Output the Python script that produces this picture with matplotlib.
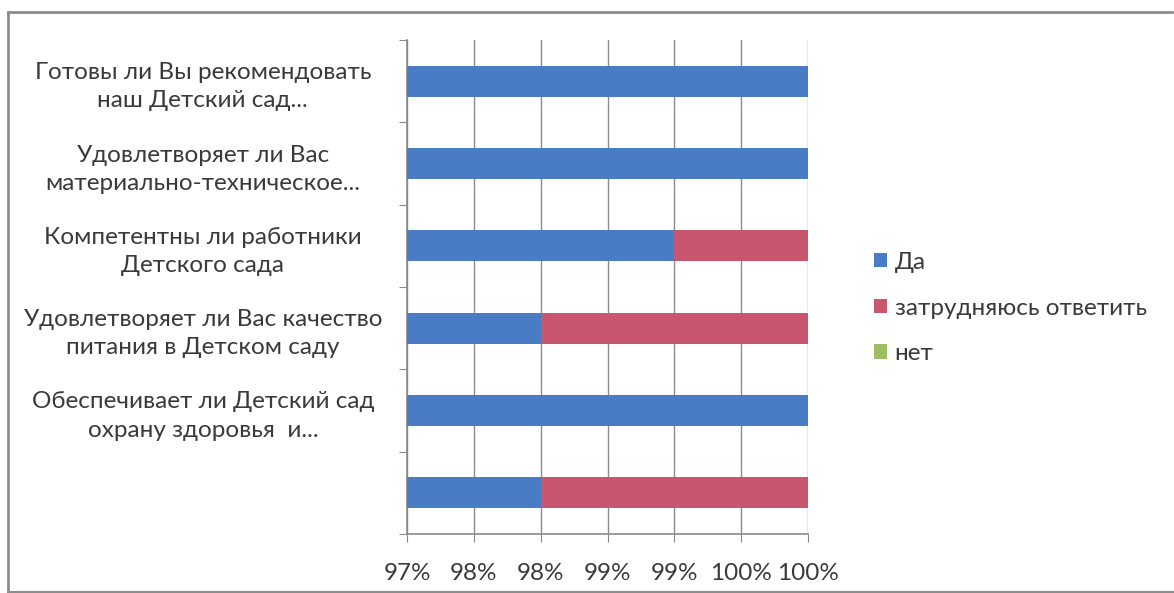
import matplotlib
matplotlib.use("Agg")
import matplotlib.pyplot as plt
from matplotlib.ticker import FixedLocator, FuncFormatter
from matplotlib.lines import Line2D

# Data (top to bottom)
categories = [
    "Готовы ли Вы рекомендовать\nнаш Детский сад...",
    "Удовлетворяет ли Вас\nматериально-техническое...",
    "Компетентны ли работники\nДетского сада",
    "Удовлетворяет ли Вас качество\nпитания в Детском саду",
    "Обеспечивает ли Детский сад\nохрану здоровья  и...",
    "",
]
da = [100, 100, 99, 98, 100, 98]
zatr = [0, 0, 1, 2, 0, 2]
net = [0, 0, 0, 0, 0, 0]
series_names = ["Да", "затрудняюсь ответить", "нет"]
xticks = [97, 97.5, 98, 98.5, 99, 99.5, 100]

colors = ["#4A7CC6", "#C9566F", "#9DBF62"]
text_color = "#3a3a3a"
font = "Lato"

fig = plt.figure(figsize=(11.74, 5.93), dpi=100)
ax = fig.add_axes([407/1174, 59/593, 401/1174, 494/593])

n = len(categories)
ypos = list(range(n - 1, -1, -1))
h = 0.38
ax.barh(ypos, da, height=h, color=colors[0], label=series_names[0], zorder=3)
ax.barh(ypos, zatr, left=da, height=h, color=colors[1], label=series_names[1], zorder=3)
left2 = [a + b for a, b in zip(da, zatr)]
ax.barh(ypos, net, left=left2, height=h, color=colors[2], label=series_names[2], zorder=3)

ax.set_xlim(97, 100)
ax.set_ylim(-0.5, n - 0.5)
ax.xaxis.set_major_locator(FixedLocator(xticks))
ax.xaxis.set_major_formatter(FuncFormatter(lambda v, p: f"{int(v + 0.5)}%"))
ax.grid(axis="x", color="#8a8a8a", linewidth=1.0, zorder=0)

# y: ticks at category boundaries, labels at centers
ax.set_yticks([i - 0.5 for i in range(n + 1)])
ax.set_yticklabels([])
ax.set_yticks(ypos, minor=True)
ax.set_yticklabels(categories, minor=True, fontsize=17.5, family=font,
                   color=text_color, ha="center", linespacing=1.42)
ax.tick_params(axis="y", which="minor", length=0, pad=147)
ax.tick_params(axis="y", which="major", length=6, color="#8a8a8a", direction="out")
ax.tick_params(axis="x", which="major", length=6, color="#8a8a8a", direction="out",
               labelsize=17.5, labelcolor=text_color, pad=15)
for lab in ax.get_xticklabels():
    lab.set_family(font)

for s in ["top", "right"]:
    ax.spines[s].set_visible(False)
for s in ["left", "bottom"]:
    ax.spines[s].set_color("#8a8a8a")
    ax.spines[s].set_linewidth(1.2)

handles, labels = ax.get_legend_handles_labels()
leg = fig.legend(handles, labels, loc="center left", bbox_to_anchor=(852/1174, 1 - 308/593),
                 frameon=False, handlelength=0.55, handleheight=0.55, handletextpad=0.3,
                 labelspacing=1.02, prop={"family": font, "size": 17.5})
for t in leg.get_texts():
    t.set_color(text_color)

# figure border (left, top, bottom)
bc = "#8c8c8c"
fig.add_artist(Line2D([8/1174, 8/1174], [0, 1 - 12/593], color=bc, lw=2, transform=fig.transFigure))
fig.add_artist(Line2D([8/1174, 1172/1174], [1 - 12/593, 1 - 12/593], color=bc, lw=2, transform=fig.transFigure))
fig.add_artist(Line2D([8/1174, 1], [1/593, 1/593], color=bc, lw=1.5, transform=fig.transFigure))

fig.savefig("out.png", dpi=100)
